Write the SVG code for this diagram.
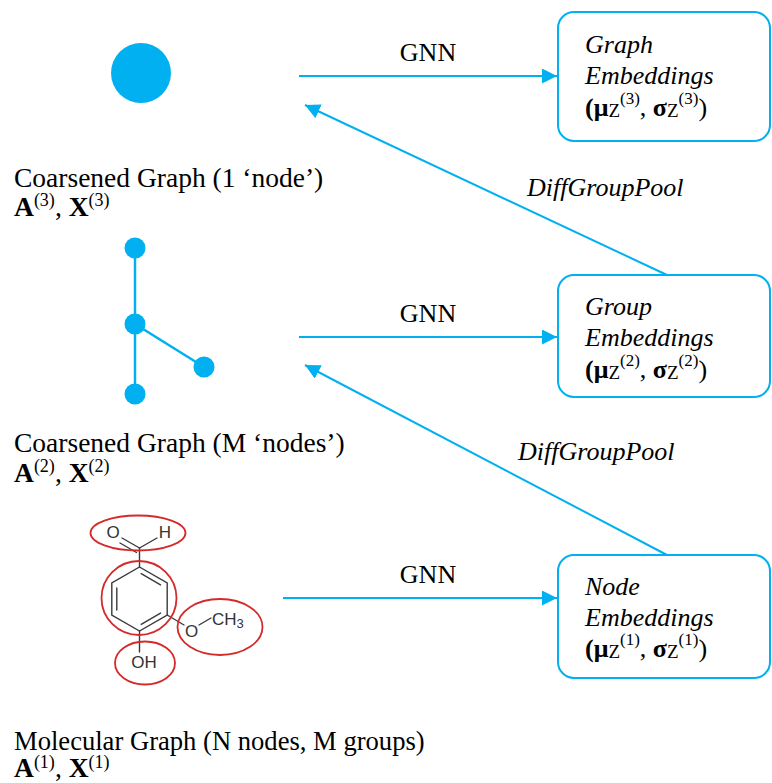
<svg xmlns="http://www.w3.org/2000/svg" width="772" height="783" viewBox="0 0 772 783">
<style>
.t{font-family:"Liberation Serif","Times New Roman",serif;font-size:26px;fill:#000}
.lab{font-size:27.5px}
.lab2{font-size:26.6px}
.it{font-style:italic}
.b{font-weight:bold}
.box{fill:#fff;stroke:#00b0f0;stroke-width:2}
.con{stroke:#00b0f0;stroke-width:2;fill:none}
.edge{stroke:#00b0f0;stroke-width:2.5}
.blue{fill:#00b0f0}
.ring{fill:none;stroke:#d42a2a;stroke-width:1.8}
.bond{stroke:#3a3a3a;stroke-width:1.4;fill:none;stroke-linecap:round}
.chem{font-family:"Liberation Sans",Arial,sans-serif;font-size:17px;fill:#333}
</style>
<defs>
<marker id="arr" markerUnits="userSpaceOnUse" markerWidth="16" markerHeight="16" refX="15" refY="7.5" orient="auto">
<path d="M0,0 L15,7.5 L0,15 z" fill="#00b0f0"/>
</marker>
</defs>
<rect width="772" height="783" fill="#fff"/>

<g id="connectors">
<line class="con" x1="299" y1="76" x2="557" y2="76" marker-end="url(#arr)"/>
<line class="con" x1="299" y1="337" x2="557" y2="337" marker-end="url(#arr)"/>
<line class="con" x1="283" y1="598" x2="557" y2="598" marker-end="url(#arr)"/>
<line class="con" x1="667" y1="275" x2="305" y2="105" marker-end="url(#arr)"/>
<line class="con" x1="667" y1="555" x2="305" y2="365" marker-end="url(#arr)"/>
<text class="t" x="428" y="61" text-anchor="middle">GNN</text>
<text class="t" x="428" y="322" text-anchor="middle">GNN</text>
<text class="t" x="428" y="583" text-anchor="middle">GNN</text>
<text class="t it" x="527" y="196">DiffGroupPool</text>
<text class="t it" x="518" y="460">DiffGroupPool</text>
</g>

<g id="node-graph-emb">
<rect class="box" x="558" y="12" width="212" height="129" rx="16"/>
<text class="t it" x="585" y="53">Graph</text>
<text class="t it" x="585" y="84">Embeddings</text>
<text class="t" x="585" y="116"><tspan class="b">(μ</tspan><tspan font-size="19" dy="1">Z</tspan><tspan font-size="17" dy="-13">(3)</tspan><tspan dy="12">, </tspan><tspan class="b">σ</tspan><tspan font-size="19" dy="1">Z</tspan><tspan font-size="17" dy="-13">(3)</tspan><tspan dy="12">)</tspan></text>
</g>

<g id="node-group-emb">
<rect class="box" x="558" y="275" width="212" height="122" rx="16"/>
<text class="t it" x="585" y="315">Group</text>
<text class="t it" x="585" y="346">Embeddings</text>
<text class="t" x="585" y="378"><tspan class="b">(μ</tspan><tspan font-size="19" dy="1">Z</tspan><tspan font-size="17" dy="-13">(2)</tspan><tspan dy="12">, </tspan><tspan class="b">σ</tspan><tspan font-size="19" dy="1">Z</tspan><tspan font-size="17" dy="-13">(2)</tspan><tspan dy="12">)</tspan></text>
</g>

<g id="node-node-emb">
<rect class="box" x="558" y="555" width="212" height="123" rx="16"/>
<text class="t it" x="585" y="595">Node</text>
<text class="t it" x="585" y="626">Embeddings</text>
<text class="t" x="585" y="657"><tspan class="b">(μ</tspan><tspan font-size="19" dy="1">Z</tspan><tspan font-size="17" dy="-13">(1)</tspan><tspan dy="12">, </tspan><tspan class="b">σ</tspan><tspan font-size="19" dy="1">Z</tspan><tspan font-size="17" dy="-13">(1)</tspan><tspan dy="12">)</tspan></text>
</g>

<g id="node-coarse1">
<circle class="blue" cx="141" cy="73" r="30"/>
<text class="t lab" x="14" y="187">Coarsened Graph (1 ‘node’)</text>
<text class="t lab" x="14" y="216"><tspan class="b">A</tspan><tspan font-size="18" dy="-10">(3)</tspan><tspan dy="10">, </tspan><tspan class="b">X</tspan><tspan font-size="18" dy="-10">(3)</tspan></text>
</g>

<g id="node-coarse2">
<line class="edge" x1="135" y1="249" x2="135" y2="324"/>
<line class="edge" x1="135" y1="324" x2="135" y2="394"/>
<line class="edge" x1="135" y1="324" x2="204" y2="367"/>
<circle class="blue" cx="135" cy="248" r="10.5"/>
<circle class="blue" cx="135" cy="324" r="10.5"/>
<circle class="blue" cx="204" cy="367" r="10.5"/>
<circle class="blue" cx="135" cy="394" r="10.5"/>
<text class="t lab" x="14" y="452">Coarsened Graph (M ‘nodes’)</text>
<text class="t lab" x="14" y="482"><tspan class="b">A</tspan><tspan font-size="18" dy="-10">(2)</tspan><tspan dy="10">, </tspan><tspan class="b">X</tspan><tspan font-size="18" dy="-10">(2)</tspan></text>
</g>

<g id="node-molecule">
<polygon class="bond" points="139.5,567 167.2,583 167.2,615 139.5,631 111.8,615 111.8,583"/>
<line class="bond" x1="116.8" y1="588" x2="116.8" y2="610"/>
<line class="bond" x1="141.2" y1="573.7" x2="160.5" y2="584.9"/>
<line class="bond" x1="160.5" y1="613.1" x2="141.2" y2="624.3"/>
<line class="bond" x1="139.5" y1="567" x2="139.5" y2="548"/>
<line class="bond" x1="139.5" y1="548" x2="122" y2="538"/>
<line class="bond" x1="136.5" y1="552.5" x2="120" y2="543"/>
<line class="bond" x1="139.5" y1="548" x2="157" y2="538"/>
<line class="bond" x1="139.5" y1="631" x2="139.5" y2="652"/>
<line class="bond" x1="167.2" y1="615" x2="184" y2="625"/>
<line class="bond" x1="199" y1="625" x2="211" y2="618"/>
<text class="chem" x="113" y="538" text-anchor="middle">O</text>
<text class="chem" x="165" y="538" text-anchor="middle">H</text>
<text class="chem" x="191.5" y="637" text-anchor="middle">O</text>
<text class="chem" x="212" y="625">CH<tspan font-size="13" dy="3">3</tspan></text>
<text class="chem" x="144" y="668" text-anchor="middle">OH</text>
<ellipse class="ring" cx="138" cy="533" rx="47.5" ry="17.5"/>
<ellipse class="ring" cx="139" cy="598" rx="37.5" ry="37"/>
<ellipse class="ring" cx="220" cy="627" rx="42.5" ry="28"/>
<ellipse class="ring" cx="145" cy="663" rx="30" ry="21.5"/>
<text class="t lab2" x="14" y="750">Molecular Graph (N nodes, M groups)</text>
<text class="t lab" x="14" y="777"><tspan class="b">A</tspan><tspan font-size="18" dy="-9">(1)</tspan><tspan dy="9">, </tspan><tspan class="b">X</tspan><tspan font-size="18" dy="-9">(1)</tspan></text>
</g>
</svg>
